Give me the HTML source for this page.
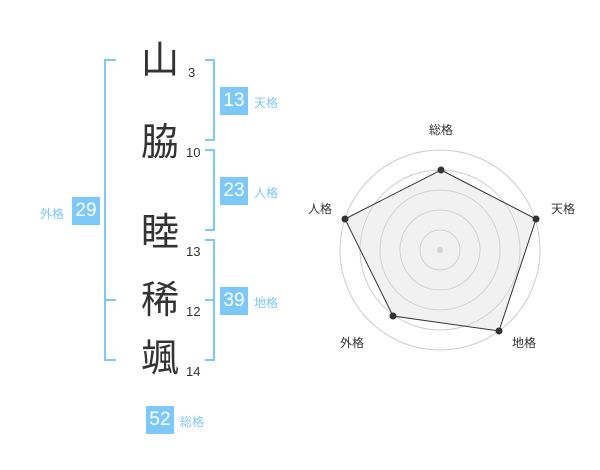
<!DOCTYPE html><html><head><meta charset="utf-8"><style>
body{margin:0;width:600px;height:470px;background:#fff;position:relative;overflow:hidden;font-family:"Liberation Sans","Noto Sans CJK JP",sans-serif}
.k{position:absolute;left:140px;font-size:38px;line-height:38px;color:#333;width:40px;text-align:center}
.n{position:absolute;left:186px;font-size:13px;color:#333;line-height:14px}
.b{position:absolute;width:28px;height:28px;background:#7cc8f8;color:#fff;font-size:19px;line-height:28px;text-align:center}
.l{position:absolute;font-size:12px;color:#7cc8f8;line-height:14px}
.v{position:absolute;background:#7cc8f8}
</style></head><body>
<div class="k" style="top:42px">山</div><div class="n" style="top:66px;left:188px">3</div>
<div class="k" style="top:124px">脇</div><div class="n" style="top:146px">10</div>
<div class="k" style="top:214px">睦</div><div class="n" style="top:245px">13</div>
<div class="k" style="top:282px">稀</div><div class="n" style="top:305px">12</div>
<div class="k" style="top:340px">颯</div><div class="n" style="top:365px">14</div>
<!-- left bracket -->
<div class="v" style="left:104px;top:59px;width:2px;height:302px"></div>
<div class="v" style="left:104px;top:59px;width:12px;height:2px"></div>
<div class="v" style="left:104px;top:299px;width:12px;height:2px"></div>
<div class="v" style="left:104px;top:359px;width:12px;height:2px"></div>
<div class="b" style="left:72px;top:197px">29</div><div class="l" style="left:40px;top:207px">外格</div>
<!-- right brackets -->
<div class="v" style="left:213px;top:59px;width:2px;height:82px"></div>
<div class="v" style="left:205px;top:59px;width:10px;height:2px"></div>
<div class="v" style="left:205px;top:139px;width:10px;height:2px"></div>
<div class="v" style="left:213px;top:149px;width:2px;height:82px"></div>
<div class="v" style="left:205px;top:149px;width:10px;height:2px"></div>
<div class="v" style="left:205px;top:229px;width:10px;height:2px"></div>
<div class="v" style="left:213px;top:239px;width:2px;height:122px"></div>
<div class="v" style="left:205px;top:239px;width:10px;height:2px"></div>
<div class="v" style="left:205px;top:299px;width:10px;height:2px"></div>
<div class="v" style="left:205px;top:359px;width:10px;height:2px"></div>
<div class="b" style="left:220px;top:87px">13</div><div class="l" style="left:254px;top:96px">天格</div>
<div class="b" style="left:220px;top:177px">23</div><div class="l" style="left:254px;top:186px">人格</div>
<div class="b" style="left:220px;top:287px">39</div><div class="l" style="left:254px;top:296px">地格</div>
<div class="b" style="left:146px;top:406px">52</div><div class="l" style="left:180px;top:415px">総格</div>
<svg style="position:absolute;left:0;top:0" width="600" height="470">
<g fill="none" stroke="#ccc" stroke-width="1">
<circle cx="440" cy="250" r="100"/><circle cx="440" cy="250" r="80"/><circle cx="440" cy="250" r="60"/><circle cx="440" cy="250" r="40"/><circle cx="440" cy="250" r="20"/>
</g>
<circle cx="440" cy="250" r="3" fill="#ccc"/>
<polygon points="441,170 536,219 499,331 393,316 345,219" fill="rgba(220,220,220,0.4)" stroke="#333" stroke-width="1"/>
<g fill="#333"><circle cx="441" cy="170" r="3.5"/><circle cx="536" cy="219" r="3.5"/><circle cx="499" cy="331" r="3.5"/><circle cx="393" cy="316" r="3.5"/><circle cx="345" cy="219" r="3.5"/></g>
<g font-size="12" fill="#333" font-family="Liberation Sans,Noto Sans CJK JP,sans-serif" text-anchor="middle">
<text x="441" y="134">総格</text><text x="563" y="213">天格</text><text x="320" y="213">人格</text><text x="524" y="347">地格</text><text x="352" y="347">外格</text>
</g></svg>
</body></html>
